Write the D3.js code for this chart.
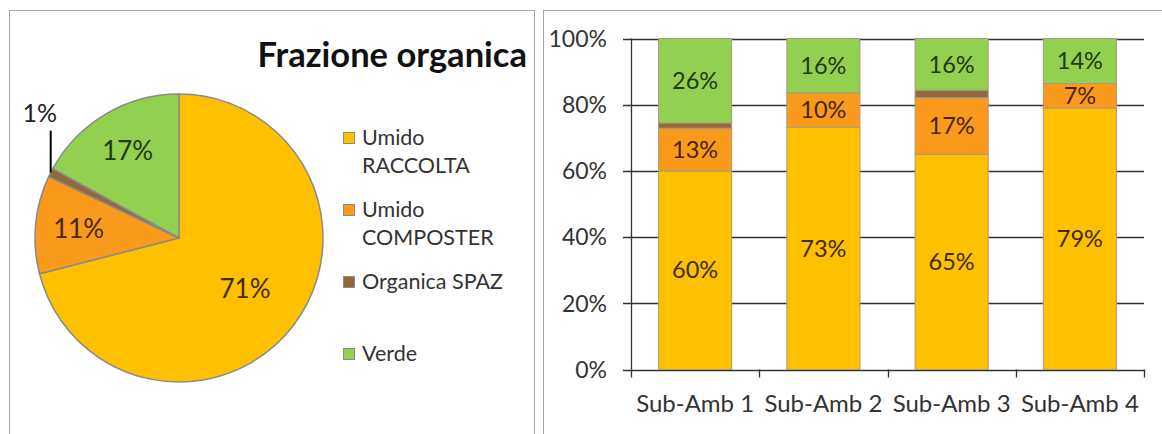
<!DOCTYPE html>
<html>
<head>
<meta charset="utf-8">
<script src="https://cdnjs.cloudflare.com/ajax/libs/d3/7.8.5/d3.min.js"></script>
<style>
  body { margin: 0; background: #fff; }
  svg { display: block; font-family: Lato, "Noto Sans", sans-serif; }
</style>
</head>
<body>
<svg id="chart" width="1162" height="434"></svg>
<script>
// series (same order in both charts)
var series = ["Umido RACCOLTA", "Umido COMPOSTER", "Organica SPAZ", "Verde"];
var colors = ["#FFC000", "#FA9A1A", "#93683C", "#92D050"];
var textColors = ["#3d2c00", "#4a2208", "#222", "#1e3a12"];

// pie: whole area
var pieTitle = "Frazione organica";
var pieValues = [71, 11, 1, 17];

// stacked bars: share per sub-area
var categories = ["Sub-Amb 1", "Sub-Amb 2", "Sub-Amb 3", "Sub-Amb 4"];
var raccolta  = [60, 73.2, 65, 79];
var composter = [12.9, 10.4, 17.1, 7.4];
var spaz      = [1.6, 0, 2.3, 0];
var verde     = [25.5, 16.4, 15.6, 13.6];
var yTicks = [0, 20, 40, 60, 80, 100];

var svg = d3.select("#chart");
var fmt = function(v) { return Math.round(v) + "%"; };

// panel frames
svg.append("rect").attr("x", 9.5).attr("y", 10.5).attr("width", 525).attr("height", 440)
  .attr("fill", "none").attr("stroke", "#a6a6a6");
svg.append("rect").attr("x", 543.5).attr("y", 10.5).attr("width", 640).attr("height", 440)
  .attr("fill", "none").attr("stroke", "#a6a6a6");

// ---------- pie ----------
var cx = 179, cy = 238, r = 144;
var pieG = svg.append("g").attr("transform", "translate(" + cx + "," + cy + ")");
var pie = d3.pie().sort(null).value(function(d) { return d; });
var arcs = pie(pieValues);
var arc = d3.arc().innerRadius(0).outerRadius(r);
// big slice label sits nearer the centre, like Excel's best fit
var labelPos = function(d) {
  var k = d.value > 50 ? 0.58 : 0.7;
  return d3.arc().innerRadius(r * k).outerRadius(r * k).centroid(d);
};

pieG.selectAll("path.slice")
  .data(arcs)
  .enter().append("path")
    .attr("class", "slice")
    .attr("d", arc)
    .attr("fill", function(d, i) { return colors[i]; })
    .attr("stroke", "#8a8a8a")
    .attr("stroke-width", 1.5);

pieG.selectAll("text.lbl")
  .data(arcs.filter(function(d) { return d.value >= 5; }))
  .enter().append("text")
    .attr("class", "lbl")
    .attr("x", function(d) { return labelPos(d)[0]; })
    .attr("y", function(d) { return labelPos(d)[1]; })
    .attr("dy", "0.35em")
    .attr("text-anchor", "middle")
    .attr("font-size", 26)
    .attr("fill", function(d) { return textColors[d.index]; })
    .text(function(d) { return fmt(d.value); });

// small slice: label outside with a leader line
arcs.filter(function(d) { return d.value < 5; }).forEach(function(d) {
  var a = (d.startAngle + d.endAngle) / 2;
  var px = Math.sin(a) * r, py = -Math.cos(a) * r;
  pieG.append("line")
    .attr("x1", px).attr("y1", py).attr("x2", px).attr("y2", py - 42)
    .attr("stroke", "#000").attr("stroke-width", 2);
  pieG.append("text")
    .attr("x", px - 11).attr("y", py - 51)
    .attr("text-anchor", "middle")
    .attr("font-size", 25)
    .attr("fill", "#222")
    .text(fmt(d.value));
});

svg.append("text")
  .attr("x", 527).attr("y", 67)
  .attr("text-anchor", "end")
  .attr("font-size", 34.5)
  .attr("font-weight", "bold")
  .attr("fill", "#111")
  .text(pieTitle);

// legend
var legend = svg.append("g").attr("transform", "translate(343,145)");
var entry = legend.selectAll("g")
  .data(series)
  .enter().append("g")
    .attr("transform", function(d, i) { return "translate(0," + (i * 72) + ")"; });
entry.append("rect")
  .attr("x", 0.5).attr("y", -12.5).attr("width", 11).attr("height", 11)
  .attr("fill", function(d, i) { return colors[i]; })
  .attr("stroke", "#8a8a8a");
entry.append("text")
  .attr("x", 19)
  .attr("font-size", 21.5)
  .attr("fill", "#333")
  .each(function(d) {
    // wrap like the original legend (narrow box)
    var t = d3.select(this), words = d.split(" "), line = [];
    var ts = t.append("tspan").attr("x", 19).attr("dy", 0);
    words.forEach(function(w) {
      line.push(w);
      ts.text(line.join(" "));
      if (ts.node().getComputedTextLength() > 155 && line.length > 1) {
        line.pop();
        ts.text(line.join(" "));
        line = [w];
        ts = t.append("tspan").attr("x", 19).attr("dy", 28).text(w);
      }
    });
  });

// ---------- stacked bars ----------
var rows = categories.map(function(c, i) {
  return { cat: c, v: [raccolta[i], composter[i], spaz[i], verde[i]] };
});
var stack = d3.stack().keys([0, 1, 2, 3]).value(function(d, k) { return d.v[k]; });
var layers = stack(rows);

var x0 = 631, x1 = 1144;
var x = d3.scaleBand().domain(categories).range([x0, x1]).paddingInner(0.43).paddingOuter(0.215);
var y = d3.scaleLinear().domain([0, 100]).range([369.5, 38.5]);

// gridlines with left tick
svg.append("g")
  .selectAll("line")
  .data(yTicks)
  .enter().append("line")
    .attr("x1", x0 - 8).attr("x2", x1)
    .attr("y1", function(d) { return Math.round(y(d)) + 0.5; })
    .attr("y2", function(d) { return Math.round(y(d)) + 0.5; })
    .attr("stroke", "#333").attr("stroke-width", 1.3);

svg.append("g")
  .selectAll("text")
  .data(yTicks)
  .enter().append("text")
    .attr("x", 607)
    .attr("y", function(d) { return y(d); })
    .attr("dy", "0.36em")
    .attr("text-anchor", "end")
    .attr("font-size", 23)
    .attr("fill", "#333")
    .text(function(d) { return d + "%"; });

var layerG = svg.selectAll("g.layer")
  .data(layers)
  .enter().append("g")
    .attr("class", "layer")
    .attr("fill", function(d, i) { return colors[i]; });

layerG.selectAll("rect")
  .data(function(d) { return d; })
  .enter().append("rect")
    .attr("x", function(d) { return x(d.data.cat); })
    .attr("width", x.bandwidth())
    .attr("y", function(d) { return y(d[1]); })
    .attr("height", function(d) { return y(d[0]) - y(d[1]); })
    .attr("stroke", function(d) { return d[1] > d[0] ? "#a59a86" : "none"; })
    .attr("stroke-width", 1);

// value labels (the tiny brown share is not labelled)
layerG.filter(function(d) { return d.key !== 2; })
  .selectAll("text")
  .data(function(d) { return d.map(function(p) { return { p: p, k: d.key }; }); })
  .enter().append("text")
    .attr("x", function(d) { return x(d.p.data.cat) + x.bandwidth() / 2; })
    .attr("y", function(d) { return y((d.p[0] + d.p[1]) / 2); })
    .attr("dy", "0.35em")
    .attr("text-anchor", "middle")
    .attr("font-size", 23.5)
    .attr("fill", function(d) { return textColors[d.k]; })
    .text(function(d) { return fmt(d.p[1] - d.p[0]); });

// axes lines
svg.append("line").attr("x1", x0 + 0.5).attr("x2", x0 + 0.5).attr("y1", y(100)).attr("y2", y(0))
  .attr("stroke", "#333").attr("stroke-width", 1.3);
var xb = d3.range(categories.length + 1).map(function(i) { return x0 + i * x.step(); });
svg.append("g").selectAll("line")
  .data(xb)
  .enter().append("line")
    .attr("x1", function(d) { return Math.round(d) + 0.5; })
    .attr("x2", function(d) { return Math.round(d) + 0.5; })
    .attr("y1", y(0)).attr("y2", y(0) + 8)
    .attr("stroke", "#333").attr("stroke-width", 1.3);

svg.append("g").selectAll("text")
  .data(categories)
  .enter().append("text")
    .attr("x", function(d) { return x(d) + x.bandwidth() / 2; })
    .attr("y", 412)
    .attr("text-anchor", "middle")
    .attr("font-size", 24)
    .attr("fill", "#333")
    .text(function(d) { return d; });
</script>
</body>
</html>
